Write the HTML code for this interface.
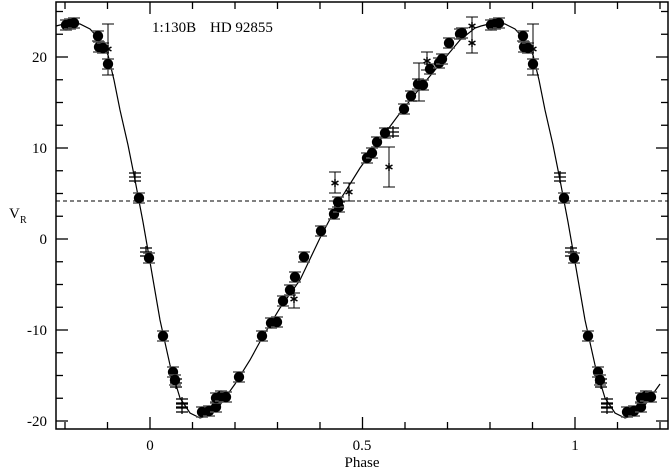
<!DOCTYPE html>
<html><head><meta charset="utf-8"><style>
html,body{margin:0;padding:0;background:#fff;}
svg{display:block;font-family:"Liberation Serif",serif;}
</style></head><body>
<svg id="s" width="671" height="468" viewBox="0 0 671 468" xmlns="http://www.w3.org/2000/svg">
<rect x="0" y="0" width="671" height="468" fill="#fff"/>
<g id="ticks" stroke="#000" stroke-width="1.3"></g>
<line x1="56" y1="201" x2="668" y2="201" stroke="#000" stroke-width="1" stroke-dasharray="4,3"/>
<polyline id="curve" fill="none" stroke="#000" stroke-width="1.2"/>
<g id="pts"></g>
<rect x="56" y="2" width="612" height="427" fill="none" stroke="#000" stroke-width="1.5"/>
<g font-size="15" fill="#000" text-anchor="end">
<text x="47" y="62">20</text><text x="47" y="153">10</text><text x="47" y="244">0</text>
<text x="47" y="335">-10</text><text x="47" y="426">-20</text>
</g>
<g font-size="15" fill="#000" text-anchor="middle">
<text x="150" y="450">0</text><text x="362" y="450">0.5</text><text x="575" y="450">1</text>
<text x="362" y="467">Phase</text>
</g>
<text x="9" y="218" font-size="15">V</text><text x="20" y="223" font-size="10">R</text>
<text x="152" y="32" font-size="15">1:130B</text>
<text x="210" y="32" font-size="15">HD 92855</text>
</svg>
<script>
var NS="http://www.w3.org/2000/svg",S=document.getElementById('pts'),T=document.getElementById('ticks');
function el(t,a,p){var e=document.createElementNS(NS,t);for(var k in a)e.setAttribute(k,a[k]);(p||S).appendChild(e);return e;}
for(var i=-2;i<=12;i++){var x=150+42.5*i;if(x<57||x>667)continue;var L=(i%5==0)?12:7;
 el('line',{x1:x,y1:429,x2:x,y2:429-L},T);el('line',{x1:x,y1:2,x2:x,y2:2+L},T);}
for(var v=-20;v<=25;v+=2.5){var y=239-9.1*v;if(y<3||y>428)continue;var L=(v%10==0)?12:7;
 el('line',{x1:56,y1:y,x2:56+L,y2:y},T);el('line',{x1:668,y1:y,x2:668-L,y2:y},T);}
var lc=[[56,26],[60,25],[66,23.5],[72,23],[80,24],[90,29],[100,40],[108,55],[114,80],[120,110],[128,145],[135,180],[143,222],[150,262],[160,320],[170,365],[180,398],[190,413],[200,418],[210,415],[220,405],[235,384],[250,360]];
var mc=[[262,338],[280,308],[300,280],[320,238],[340,200],[360,168],[380,140],[400,113],[420,88],[440,64],[460,40],[475,28]];
var pts=lc.concat(mc);lc.forEach(function(p){if(p[0]+425>478&&p[0]+425<=669)pts.push([p[0]+425,p[1]]);});
document.getElementById('curve').setAttribute('points',pts.map(function(p){return p.join(',')}).join(' '));
function dot(x,y){el('line',{x1:x,y1:y-5,x2:x,y2:y+5,stroke:'#000','stroke-width':1});
 el('line',{x1:x-6,y1:y-5,x2:x+6,y2:y-5,stroke:'#555','stroke-width':1.5});el('line',{x1:x-6,y1:y+5,x2:x+6,y2:y+5,stroke:'#555','stroke-width':1.5});
 el('circle',{cx:x,cy:y,r:5.2,fill:'#000'});}
function plus(x,y){el('line',{x1:x,y1:y-6,x2:x,y2:y+6,stroke:'#000','stroke-width':1.3});
 [-4,0,4].forEach(function(d){el('line',{x1:x-6,y1:y+d,x2:x+6,y2:y+d,stroke:'#000','stroke-width':1.3});});}
function star(x,y,b1,b2){if(b1!==undefined){el('line',{x1:x,y1:b1,x2:x,y2:b2,stroke:'#000','stroke-width':1});
 el('line',{x1:x-6,y1:b1,x2:x+6,y2:b1,stroke:'#000','stroke-width':1});el('line',{x1:x-6,y1:b2,x2:x+6,y2:b2,stroke:'#000','stroke-width':1});}
 for(var a=0;a<3;a++){var t=a*Math.PI/3+Math.PI/2,c=Math.cos(t)*4,s=Math.sin(t)*4;el('line',{x1:x-c,y1:y-s,x2:x+c,y2:y+s,stroke:'#000','stroke-width':1.5});}}
function bar(x,b1,b2){el('line',{x1:x,y1:b1,x2:x,y2:b2,stroke:'#000','stroke-width':1});
 el('line',{x1:x-6,y1:b1,x2:x+6,y2:b1,stroke:'#000','stroke-width':1});el('line',{x1:x-6,y1:b2,x2:x+6,y2:b2,stroke:'#000','stroke-width':1});}
var L=[['d',66,25],['d',70,24],['d',74,23],['d',98,36],['d',99,47],['d',103,48],['s',108,49],['b',108,24,75],['d',108,64],
['p',135,177],['d',139,198],['p',146,252],['d',149,258],['d',163,336],['d',173,372],['d',175,380],['p',176,383],['p',182,403],['p',182,408],
['d',202,412],['d',209,411],['d',216,407],['d',216,398],['d',221,396],['d',226,397],['d',239,377]];
function draw(a,dx){var x=a[1]+dx;if(x<58||x>658)return;
 if(a[0]=='d')dot(x,a[2]);else if(a[0]=='p')plus(x,a[2]);else if(a[0]=='s')star(x,a[2]);else if(a[0]=='b')bar(x,a[2],a[3]);}
L.forEach(function(a){draw(a,0);draw(a,425);});
var M=[['d',262,336],['d',271,323],['d',277,322],['d',283,301],['d',290,290],['d',295,277],['d',304,257],['d',321,231],
['d',334,214],['d',339,207],['d',338,202],['d',367,158],['d',372,153],['d',377,142],['d',385,133],['p',393,132],
['d',404,109],['d',411,96],['d',418,84],['d',423,85],['b',419,63,101],['d',430,69],['d',439,63],['d',442,59],['d',449,43],['d',460,34],['d',462,33]];
M.forEach(function(a){draw(a,0);});
star(294,299,293,308);star(335,183,172,193);star(349,192,183,201);star(389,167,147,187);star(427,61,52,70);
star(472,26,17,53);star(472,43);
</script>
</body></html>
